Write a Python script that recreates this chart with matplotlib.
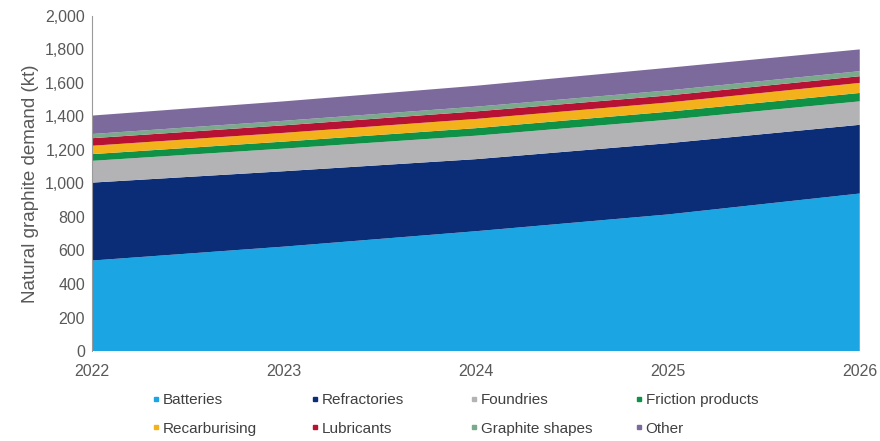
import matplotlib
matplotlib.use("Agg")
import matplotlib.pyplot as plt
from matplotlib.lines import Line2D
from matplotlib.ticker import FuncFormatter

plt.rcParams['font.family'] = ['Liberation Sans', 'DejaVu Sans']

# Natural graphite demand by end use (kt)
years = [2022, 2023, 2024, 2025, 2026]
batteries = [540, 623, 715, 815, 940]
refractories = [465, 450, 430, 425, 410]
foundries = [130, 135, 140, 140, 140]
friction = [40, 42, 45, 48, 50]
recarburising = [50, 52, 55, 55, 60]
lubricants = [45, 45, 45, 42, 40]
graphite_shapes = [25, 27, 28, 30, 30]
other = [110, 116, 125, 135, 130]

labels = ['Batteries', 'Refractories', 'Foundries', 'Friction products',
          'Recarburising', 'Lubricants', 'Graphite shapes', 'Other']
colors = ['#1ba5e3', '#0b2d78', '#b3b3b5', '#0f9148',
          '#f3b11c', '#b71234', '#7aa98c', '#7d6a9c']

fig = plt.figure(figsize=(8.8, 4.41), dpi=100)
ax = fig.add_axes([0.1045, 0.204, 0.8725, 0.76])

ax.stackplot(years, batteries, refractories, foundries, friction,
             recarburising, lubricants, graphite_shapes, other,
             colors=colors, labels=labels, linewidth=0)

ax.set_xlim(2022, 2026)
ax.set_ylim(0, 2000)
ax.set_xticks(years)
ax.set_yticks(range(0, 2001, 200))
ax.yaxis.set_major_formatter(FuncFormatter(lambda v, p: f'{int(v):,}'))
ax.tick_params(axis='both', length=0, labelsize=11.5, colors='#595959', pad=5)
ax.tick_params(axis='x', pad=9)

for s in ['top', 'right', 'bottom']:
    ax.spines[s].set_visible(False)
ax.spines['left'].set_color('#9a9a9a')
ax.set_ylabel('Natural graphite demand (kt)', fontsize=13.5, color='#595959', labelpad=4)

# legend: four columns of two entries, small square markers
handles = [Line2D([], [], marker='s', linestyle='none', markersize=3.5,
                  markerfacecolor=c, markeredgecolor=c) for c in colors]
col_x = [152, 311, 470, 635]  # left edge of each legend column, px
for k, x in enumerate(col_x):
    idx = [k, k + 4]
    fig.legend([handles[i] for i in idx], [labels[i] for i in idx],
               loc='upper left', bbox_to_anchor=(x / 880, 1 - 393 / 441),
               frameon=False, fontsize=11, handlelength=0.5, handletextpad=0.2,
               borderpad=0, borderaxespad=0, labelspacing=0.95,
               labelcolor='#404040')

fig.savefig('out.png', dpi=100)
